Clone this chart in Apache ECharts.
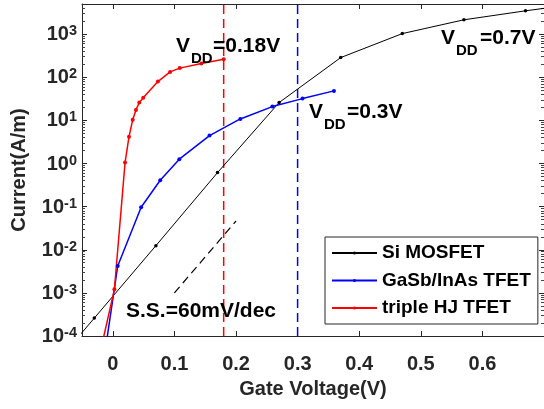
<!DOCTYPE html>
<html><head><meta charset="utf-8">
<script src="https://cdn.jsdelivr.net/npm/echarts@6/dist/echarts.min.js"></script>
<style>html,body{margin:0;padding:0;background:#fff}#c{width:544px;height:409px}</style>
</head><body><div id="c"></div>
<script>
// ---- data ----
const siV = [-0.13, -0.03, 0.07, 0.17, 0.27, 0.37, 0.47, 0.57, 0.67, 0.77];
const siI = [5.5e-6, 2.6e-4, 0.01245, 0.615, 25.9, 286, 1030, 2150, 3475, 5400];
const gaV = [-0.02, 0.008, 0.046, 0.077, 0.108, 0.157, 0.207, 0.259, 0.308, 0.359];
const gaI = [8.3e-6, 0.0042, 0.0968, 0.409, 1.26, 4.44, 10.8, 20.9, 32, 48.3];
const hjV = [-0.02, 0.0026, 0.0199, 0.0263, 0.0323, 0.0376, 0.043, 0.0494, 0.0732, 0.093, 0.1087, 0.1438, 0.18];
const hjI = [4.5e-5, 1.21e-3, 1.05, 4.2, 10.3, 17.5, 25.9, 33.3, 79.5, 133, 163, 208, 263];
const ssV = [0.1, 0.2];
const ssI = [1e-3, 0.0464];
const vddV = [0.18, 0.3];
const seriesNames = ['Si MOSFET', 'GaSb/InAs TFET', 'triple HJ TFET'];
const xMin = -0.05, xMax = 0.7, xTickStart = 0, xTickStep = 0.1;
const yMin = 1e-4, yMax = 5000;

const FF = 'Liberation Sans, Arial, sans-serif';
const AX = '#262626';
const pair = (xs, ys) => xs.map((x, i) => [x, ys[i]]);

const G0 = {left: 82, top: 4, width: 464, height: 332};
const G1 = {
  left: G0.left + G0.width * (xTickStart - xMin) / (xMax - xMin),
  top: G0.top,
  width: G0.width * (xMax - xTickStart) / (xMax - xMin),
  height: G0.height
};

const chart = echarts.init(document.getElementById('c'), null, {renderer: 'canvas'});
const yFmt = v => {
  const e = Math.log10(v), r = Math.round(e);
  if (Math.abs(e - r) > 1e-6) return '';
  return '{b|10}{s|' + r + '}';
};
const tickStyle = {show: true, inside: true, length: 5, lineStyle: {color: AX, width: 1}};
const minorStyle = {show: true, splitNumber: 9, length: 3, lineStyle: {color: '#444', width: 1}};

const option = {
  animation: false,
  backgroundColor: '#fff',
  grid: [
    Object.assign({containLabel: false}, G0),
    Object.assign({containLabel: false}, G1)
  ],
  xAxis: [
    {type: 'value', gridIndex: 0, min: xMin, max: xMax, position: 'bottom',
     axisLine: {show: true, onZero: false, lineStyle: {color: AX, width: 1}},
     axisTick: {show: false}, axisLabel: {show: false}, splitLine: {show: false},
     name: 'Gate Voltage(V)', nameLocation: 'middle', nameGap: 43, nameMoveOverlap: false,
     nameTextStyle: {fontSize: 20, fontWeight: 'bold', color: AX, fontFamily: FF}},
    {type: 'value', gridIndex: 0, min: xMin, max: xMax, position: 'top',
     axisLine: {show: true, onZero: false, lineStyle: {color: AX, width: 1}},
     axisTick: {show: false}, axisLabel: {show: false}, splitLine: {show: false}},
    {type: 'value', gridIndex: 1, min: xTickStart, max: xMax, interval: xTickStep, position: 'bottom',
     axisLine: {show: false, onZero: false}, axisTick: tickStyle, splitLine: {show: false},
     axisLabel: {show: true, margin: 18, fontSize: 20, fontWeight: 'bold', color: AX, fontFamily: FF,
       showMaxLabel: false,
       formatter: v => (Math.abs(v) < 1e-9 ? '0' : String(Math.round(v * 10) / 10))}},
    {type: 'value', gridIndex: 1, min: xTickStart, max: xMax, interval: xTickStep, position: 'top',
     axisLine: {show: false, onZero: false}, axisTick: tickStyle, splitLine: {show: false},
     axisLabel: {show: false}}
  ],
  yAxis: [
    {type: 'log', logBase: 10, gridIndex: 0, min: yMin, max: yMax, position: 'left',
     axisLine: {show: true, onZero: false, lineStyle: {color: AX, width: 1}},
     axisTick: tickStyle, minorTick: minorStyle,
     splitLine: {show: false},
     axisLabel: {show: true, margin: 5, formatter: yFmt, showMaxLabel: false,
       rich: {
         b: {fontSize: 20, fontWeight: 'bold', color: AX, fontFamily: FF, lineHeight: 21, padding: [7, 0, 0, 0], verticalAlign: 'bottom'},
         s: {fontSize: 14.5, fontWeight: 'bold', color: AX, fontFamily: FF, lineHeight: 15, verticalAlign: 'top'}
       }},
     name: 'Current(A/m)', nameLocation: 'middle', nameGap: 53, nameRotate: 90, nameMoveOverlap: false,
     nameTextStyle: {fontSize: 20, fontWeight: 'bold', color: AX, fontFamily: FF}},
    {type: 'log', logBase: 10, gridIndex: 0, min: yMin, max: yMax, position: 'right',
     axisLine: {show: true, onZero: false, lineStyle: {color: AX, width: 1}},
     axisTick: tickStyle, minorTick: minorStyle,
     splitLine: {show: false}, axisLabel: {show: false}},
    {type: 'value', gridIndex: 1, min: 0, max: 1, show: false}
  ],
  legend: {
    data: seriesNames, orient: 'vertical', left: 325, top: 237,
    padding: [6.5, 7, 6.5, 6], itemGap: 8.5, itemWidth: 45, itemHeight: 4,
    borderColor: AX, borderWidth: 1, backgroundColor: '#fff', borderRadius: 0,
    textStyle: {fontSize: 19, fontWeight: 'bold', color: '#000', fontFamily: FF},
    selectedMode: false
  },
  series: [
    {name: 'vdd1', type: 'line', data: [[vddV[0], yMin], [vddV[0], yMax]], symbol: 'none', silent: true,
     lineStyle: {color: '#ff0000', width: 1.5, type: [9, 5]}, z: 1},
    {name: 'vdd2', type: 'line', data: [[vddV[1], yMin], [vddV[1], yMax]], symbol: 'none', silent: true,
     lineStyle: {color: '#0000ff', width: 1.5, type: [9, 5]}, z: 1},
    {name: 'ss', type: 'line', data: pair(ssV, ssI), symbol: 'none', silent: true,
     lineStyle: {color: '#000', width: 1.2, type: [8, 5]}, z: 1},
    {name: seriesNames[0], type: 'line', data: pair(siV, siI), clip: true,
     symbol: 'circle', symbolSize: 3.5, showSymbol: true, showAllSymbol: true,
     itemStyle: {color: '#000'}, lineStyle: {color: '#000', width: 1}, z: 3},
    {name: seriesNames[1], type: 'line', data: pair(gaV, gaI), clip: true,
     symbol: 'circle', symbolSize: 4, showSymbol: true, showAllSymbol: true,
     itemStyle: {color: '#0000ff'}, lineStyle: {color: '#0000ff', width: 1.5}, z: 3},
    {name: seriesNames[2], type: 'line', data: pair(hjV, hjI), clip: true,
     symbol: 'circle', symbolSize: 4, showSymbol: true, showAllSymbol: true,
     itemStyle: {color: '#ff0000'}, lineStyle: {color: '#ff0000', width: 1.5}, z: 3}
  ],
  graphic: [
    {type: 'text', x: 176, y: 46, z: 10, style: {text: 'V', font: 'bold 21px ' + FF, fill: '#000', verticalAlign: 'middle'}},
    {type: 'text', x: 191, y: 59, z: 10, style: {text: 'DD', font: 'bold 15px ' + FF, fill: '#000', verticalAlign: 'middle'}},
    {type: 'text', x: 213, y: 46, z: 10, style: {text: '=0.18V', font: 'bold 21px ' + FF, fill: '#000', verticalAlign: 'middle'}},
    {type: 'text', x: 309, y: 112, z: 10, style: {text: 'V', font: 'bold 21px ' + FF, fill: '#000', verticalAlign: 'middle'}},
    {type: 'text', x: 324, y: 125, z: 10, style: {text: 'DD', font: 'bold 15px ' + FF, fill: '#000', verticalAlign: 'middle'}},
    {type: 'text', x: 347, y: 112, z: 10, style: {text: '=0.3V', font: 'bold 21px ' + FF, fill: '#000', verticalAlign: 'middle'}},
    {type: 'text', x: 441, y: 38, z: 10, style: {text: 'V', font: 'bold 21px ' + FF, fill: '#000', verticalAlign: 'middle'}},
    {type: 'text', x: 456, y: 51, z: 10, style: {text: 'DD', font: 'bold 15px ' + FF, fill: '#000', verticalAlign: 'middle'}},
    {type: 'text', x: 480, y: 38, z: 10, style: {text: '=0.7V', font: 'bold 21px ' + FF, fill: '#000', verticalAlign: 'middle'}},
    {type: 'text', x: 126, y: 311, z: 10, style: {text: 'S.S.=60mV/dec', font: 'bold 21px ' + FF, fill: '#000', verticalAlign: 'middle'}}
  ]
};
chart.setOption(option);
</script></body></html>
